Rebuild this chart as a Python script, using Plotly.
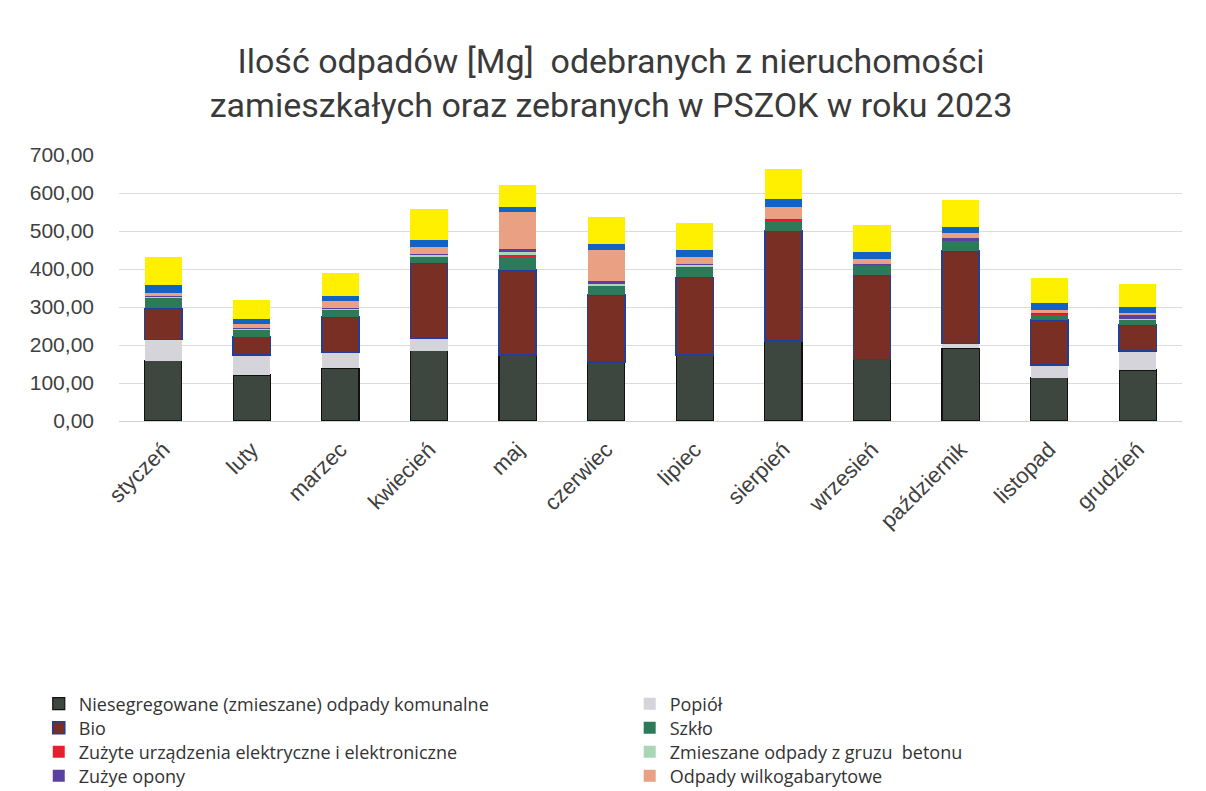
import plotly.graph_objects as go

months = ["styczeń", "luty", "marzec", "kwiecień", "maj", "czerwiec", "lipiec",
          "sierpień", "wrzesień", "październik", "listopad", "grudzień"]

niesegregowane = [159, 121, 139, 185, 174, 156, 174, 210, 162, 191, 114, 134]
popiol = [56, 53, 41, 32, 0, 0, 0, 0, 0, 13, 33, 50]
bio = [81.5, 48, 93, 198, 223, 176, 204, 291, 222, 244, 119, 69]
szklo = [28, 19, 20, 17, 35, 24, 26, 25, 26, 26, 15, 13]
zuzyte_urzadzenia = [1, 1, 1, 1, 4, 1, 1, 3, 1, 1, 1, 1]
gruz = [2, 1, 3, 5, 8, 4, 8, 2, 2, 1, 2, 0.5]
opony = [0.5, 0.5, 0.5, 1, 8, 8, 1, 1, 1, 5, 1, 11.5]
wielkogabarytowe = [10, 10.5, 18, 18, 99, 81, 18, 32, 12, 15, 7, 6]
papier = [20, 13.5, 14, 19, 13, 16, 18, 19, 18, 15, 18, 14]
metale_tworzywa = [74, 50.5, 59, 82, 57, 72, 70, 80, 72, 71, 66, 62]

# (name, values, fill, outline colour, outline width, legend id or None)
series = [
    ("Niesegregowane (zmieszane) odpady komunalne", niesegregowane, "#3d4740", "#111111", 1.2, "legend"),
    ("Popiół", popiol, "#d4d4da", "#d4d4da", 0, "legend2"),
    ("Bio", bio, "#7a2f24", "#1f3f9a", 1.6, "legend3"),
    ("Szkło", szklo, "#2c7a5a", "#2c7a5a", 0, "legend4"),
    ("Zużyte urządzenia elektryczne i elektroniczne", zuzyte_urzadzenia, "#e2202f", "#e2202f", 0, "legend5"),
    ("Zmieszane odpady z gruzu  betonu", gruz, "#a9d6b4", "#a9d6b4", 0, "legend6"),
    ("Zużye opony", opony, "#5a40a0", "#5a40a0", 0, "legend7"),
    ("Odpady wilkogabarytowe", wielkogabarytowe, "#e9a083", "#e9a083", 0, "legend8"),
    ("Papier i tektura", papier, "#1462c4", "#1462c4", 0, None),
    ("Metale i tworzywa sztuczne", metale_tworzywa, "#fff000", "#fff000", 0, None),
]

fig = go.Figure()
for name, vals, col, lcol, lw, leg in series:
    kw = dict(legend=leg) if leg else dict(showlegend=False)
    fig.add_trace(go.Bar(
        x=months, y=vals, name=name,
        marker=dict(color=col, line=dict(color=lcol, width=lw)),
        **kw,
    ))

legend_font = dict(family="Open Sans", size=18, color="#333333")
col_x = [0.0255, 0.5155]
row_y = [696, 720, 744, 768]
legend_layout = {}
for i in range(8):
    key = "legend" if i == 0 else f"legend{i + 1}"
    legend_layout[key] = dict(
        xref="container", yref="container",
        x=col_x[i % 2], y=1 - row_y[i // 2] / 791,
        xanchor="left", yanchor="middle",
        font=legend_font, bgcolor="rgba(0,0,0,0)",
        borderwidth=0,
    )

fig.update_layout(
    barmode="stack",
    bargap=0.58,
    width=1206, height=791,
    paper_bgcolor="white", plot_bgcolor="white",
    separators=", ",
    margin=dict(l=111, r=32, t=147, b=378, autoexpand=False),
    title=dict(
        text="Ilość odpadów [Mg]  odebranych z nieruchomości<br>zamieszkałych oraz zebranych w PSZOK w roku 2023",
        x=0.5, xanchor="center", y=1 - 65 / 791, yanchor="top",
        font=dict(family="Roboto", size=34, color="#3a3a3a"),
    ),
    xaxis=dict(
        tickangle=-45,
        tickfont=dict(family="Liberation Sans, Arial", size=22, color="#404040"),
        showline=True, linecolor="#d0d0d0", linewidth=1,
        ticks="", ticklabelstandoff=6,
    ),
    yaxis=dict(
        range=[0, 700], dtick=100, tickformat=".2f",
        tickfont=dict(family="Liberation Sans, Arial", size=21, color="#404040"),
        gridcolor="#dcdcdc", gridwidth=1,
        zeroline=False, ticks="", ticklabelstandoff=24,
    ),
    **legend_layout,
)

fig.write_html("out.html")
